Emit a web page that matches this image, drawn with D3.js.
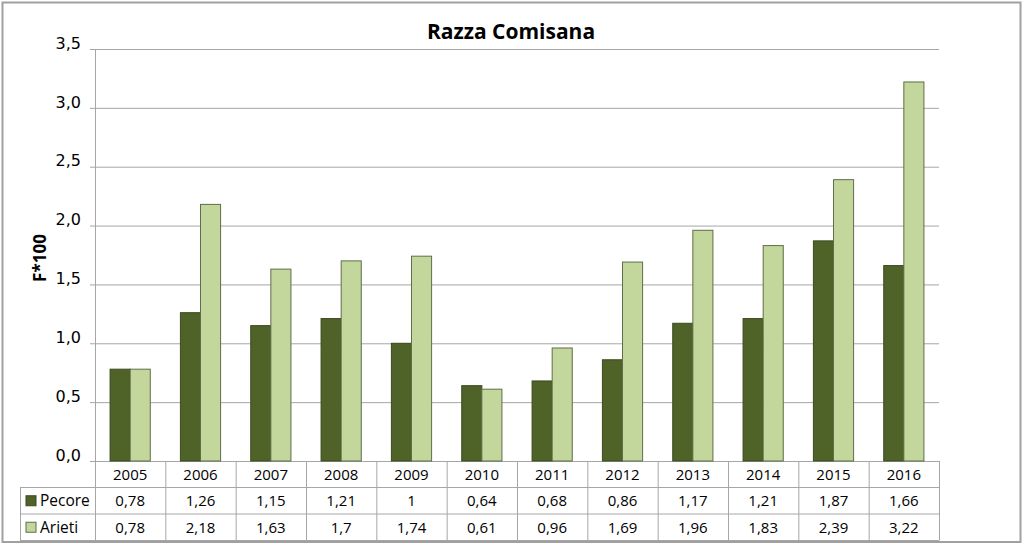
<!DOCTYPE html>
<html>
<head>
<meta charset="utf-8">
<script src="https://cdn.jsdelivr.net/npm/d3@7"></script>
<style>
  body { margin: 0; background: #fff; }
  text { font-family: "Open Sans", "DejaVu Sans", sans-serif; fill: #000; }
</style>
</head>
<body>
<div id="chart"></div>
<script>
const years = ["2005", "2006", "2007", "2008", "2009", "2010", "2011", "2012", "2013", "2014", "2015", "2016"];
const pecore = [0.78, 1.26, 1.15, 1.21, 1, 0.64, 0.68, 0.86, 1.17, 1.21, 1.87, 1.66];
const arieti = [0.78, 2.18, 1.63, 1.7, 1.74, 0.61, 0.96, 1.69, 1.96, 1.83, 2.39, 3.22];
const yTicks = [0, 0.5, 1, 1.5, 2, 2.5, 3, 3.5];

const series = [
    { name: "Pecore", values: pecore, fill: "#4f6228", stroke: "#3c4a1f" },
    { name: "Arieti", values: arieti, fill: "#c3d69b", stroke: "#5f6e48" }
];

const width = 1024;
const height = 545;
const plotLeft = 95, plotRight = 939, plotTop = 49, plotBottom = 461;
const rowH = 26.5;
const gridColor = "#a6a6a6";
const comma = v => String(v).replace(".", ",");

const svg = d3.select("#chart")
    .append("svg")
    .attr("width", width)
    .attr("height", height);

// outer frame
svg.append("rect")
    .attr("x", 2.5).attr("y", 2.5)
    .attr("width", 1018).attr("height", 539.5)
    .attr("fill", "none")
    .attr("stroke", "#a0a0a0")
    .attr("stroke-width", 2);

const x = d3.scaleBand()
    .domain(years)
    .range([plotLeft, plotRight]);

const x1 = d3.scaleBand()
    .domain(series.map(s => s.name))
    .range([0, x.bandwidth()])
    .paddingInner(0)
    .paddingOuter(0.75);

const y = d3.scaleLinear()
    .domain([0, 3.5])
    .range([plotBottom, plotTop]);

// gridlines + ticks
const yAxis = d3.axisLeft(y)
    .tickValues(yTicks)
    .tickSize(-(plotRight - plotLeft))
    .tickPadding(14)
    .tickFormat(d => d3.format(".1f")(d).replace(".", ","));

const gy = svg.append("g")
    .attr("transform", `translate(${plotLeft},0)`)
    .call(yAxis);
gy.select(".domain").remove();
gy.selectAll(".tick line")
    .attr("x1", -5)
    .attr("stroke", gridColor);
gy.selectAll(".tick text")
    .style("font-size", "16px")
    .style("font-family", "DejaVu Sans, sans-serif")
    .attr("dy", "-0.05em");

svg.append("line")
    .attr("x1", plotLeft + 0.5).attr("x2", plotLeft + 0.5)
    .attr("y1", plotTop).attr("y2", plotBottom)
    .attr("stroke", gridColor);

// bars
series.forEach(s => {
    svg.append("g")
        .selectAll("rect")
        .data(s.values)
        .enter()
        .append("rect")
        .attr("x", (d, i) => x(years[i]) + x1(s.name))
        .attr("y", d => y(d))
        .attr("width", x1.bandwidth())
        .attr("height", d => plotBottom - y(d))
        .attr("fill", s.fill)
        .attr("stroke", s.stroke)
        .attr("stroke-width", 1);
});

// title
svg.append("text")
    .attr("x", 511)
    .attr("y", 39)
    .attr("text-anchor", "middle")
    .style("font-size", "21px")
    .style("font-weight", "bold")
    .text("Razza Comisana");

// y label
svg.append("text")
    .attr("transform", "translate(46,258) rotate(-90)")
    .attr("text-anchor", "middle")
    .style("font-size", "17px")
    .style("font-weight", "bold")
    .text("F*100");

// data table
const table = svg.append("g").attr("stroke", gridColor).attr("fill", "none");
const tableLeft = 20;
const r1 = plotBottom + rowH, r2 = plotBottom + 2 * rowH, r3 = plotBottom + 3 * rowH;

[r1, r2, r3].forEach(yy => {
    table.append("line")
        .attr("x1", tableLeft).attr("x2", plotRight)
        .attr("y1", yy).attr("y2", yy);
});
years.concat(["end"]).forEach((yr, i) => {
    const xx = i < years.length ? x(yr) : plotRight;
    table.append("line")
        .attr("x1", xx + 0.5).attr("x2", xx + 0.5)
        .attr("y1", plotBottom).attr("y2", r3);
});
table.append("line")
    .attr("x1", tableLeft + 0.5).attr("x2", tableLeft + 0.5)
    .attr("y1", r1).attr("y2", r3);

svg.append("g")
    .selectAll("text")
    .data(years)
    .enter()
    .append("text")
    .attr("x", d => x(d) + x.bandwidth() / 2)
    .attr("y", plotBottom + rowH / 2 + 5.5)
    .attr("text-anchor", "middle")
    .style("font-size", "15px")
    .text(d => d);

series.forEach((s, si) => {
    const rowTop = plotBottom + rowH * (si + 1);
    svg.append("rect")
        .attr("x", 26).attr("y", rowTop + rowH / 2 - 5)
        .attr("width", 10).attr("height", 10)
        .attr("fill", s.fill)
        .attr("stroke", s.stroke);
    svg.append("text")
        .attr("x", 40)
        .attr("y", rowTop + rowH / 2 + 5.5)
        .style("font-size", "15.5px")
        .text(s.name);
    svg.append("g")
        .selectAll("text")
        .data(s.values)
        .enter()
        .append("text")
        .attr("x", (d, i) => x(years[i]) + x.bandwidth() / 2)
        .attr("y", rowTop + rowH / 2 + 5.5)
        .attr("text-anchor", "middle")
        .style("font-size", "15px")
        .text(d => comma(d));
});
</script>
</body>
</html>
